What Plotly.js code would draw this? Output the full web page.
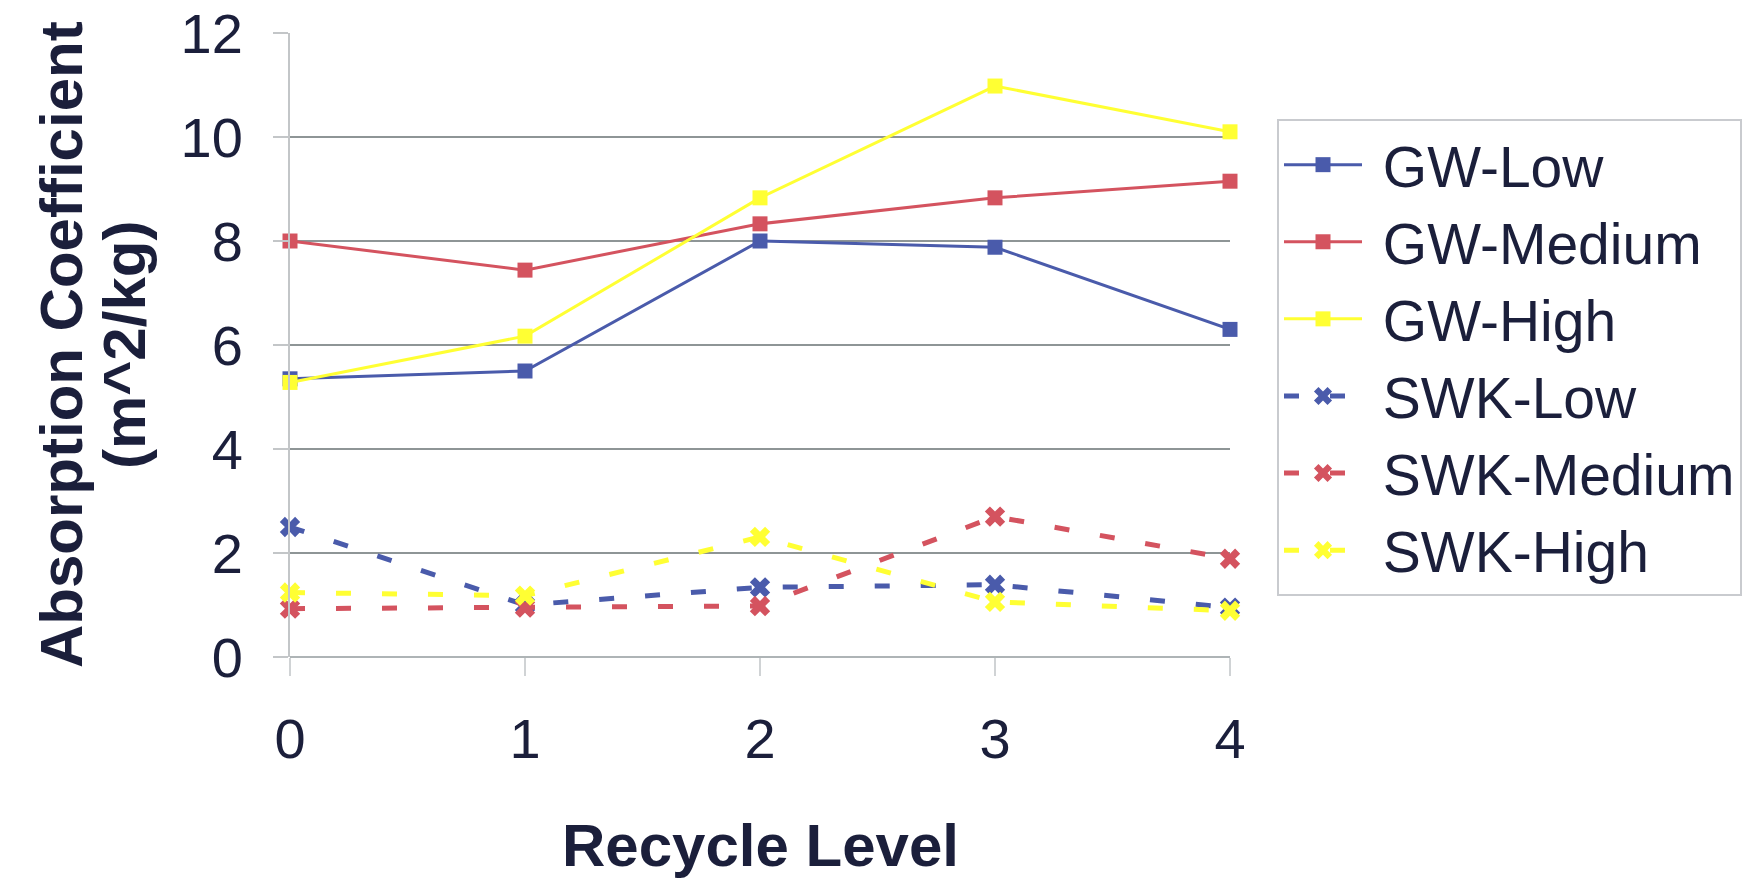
<!DOCTYPE html>
<html>
<head>
<meta charset="utf-8">
<script src="https://cdn.plot.ly/plotly-3.0.1.min.js"></script>
<style>
  html, body { margin: 0; padding: 0; background: #ffffff; }
  #chart { width: 1761px; height: 880px; }
</style>
</head>
<body>
<div id="chart"></div>
<script>
// Recycle levels on the x axis
const recycleLevels = [0, 1, 2, 3, 4];

// Absorption coefficient (m^2/kg) per series
const gwLow      = [5.35, 5.50, 8.00, 7.88, 6.30];
const gwMedium   = [8.00, 7.44, 8.33, 8.83, 9.15];
const gwHigh     = [5.28, 6.17, 8.83, 10.98, 10.10];
const swkLow     = [2.50, 1.00, 1.34, 1.39, 0.95];
const swkMedium  = [0.93, 0.95, 0.98, 2.70, 1.89];
const swkHigh    = [1.24, 1.18, 2.31, 1.06, 0.89];

const seriesNames = ['GW-Low', 'GW-Medium', 'GW-High', 'SWK-Low', 'SWK-Medium', 'SWK-High'];
const yTickValues = [0, 2, 4, 6, 8, 10, 12];
const xTickValues = [0, 1, 2, 3, 4];

const BLUE = '#4a5bab';
const RED = '#d4535f';
const YELLOW = '#ffff33';
const TEXT = '#1b1f3b';
const FONT = '"Liberation Sans", Arial, Helvetica, sans-serif';

// a non-breaking space keeps a gap between the legend symbol and its label
const legendLabel = (name) => '\u00a0' + name;

function solidSeries(name, y, color) {
  return {
    type: 'scatter', mode: 'lines+markers', name: legendLabel(name),
    x: recycleLevels, y: y,
    line: { color: color, width: 3 },
    marker: { symbol: 'square', size: 15, color: color },
    cliponaxis: false
  };
}

function dashedSeries(name, y, color) {
  return {
    type: 'scatter', mode: 'lines+markers', name: legendLabel(name),
    x: recycleLevels, y: y,
    line: { color: color, width: 5, dash: '15px,31px' },
    marker: { symbol: 'x', size: 18, color: color, line: { width: 0 } },
    cliponaxis: false
  };
}

const traces = [
  solidSeries(seriesNames[0], gwLow, BLUE),
  solidSeries(seriesNames[1], gwMedium, RED),
  solidSeries(seriesNames[2], gwHigh, YELLOW),
  dashedSeries(seriesNames[3], swkLow, BLUE),
  dashedSeries(seriesNames[4], swkMedium, RED),
  dashedSeries(seriesNames[5], swkHigh, YELLOW)
];

const layout = {
  width: 1761, height: 880,
  margin: { l: 290, r: 531, t: 33, b: 223 },
  paper_bgcolor: '#ffffff', plot_bgcolor: '#ffffff',
  font: { family: FONT, color: TEXT, size: 55 },
  showlegend: true,
  legend: {
    x: 1.05, y: 0.862, xanchor: 'left', yanchor: 'top',
    bgcolor: '#ffffff', bordercolor: '#c9cbcf', borderwidth: 2,
    font: { family: FONT, size: 57, color: TEXT },
    itemwidth: 78, tracegroupgap: 0
  },
  xaxis: {
    range: [0, 4], tickvals: xTickValues, ticktext: xTickValues.map(String),
    showgrid: false, zeroline: false,
    showline: false,
    ticks: 'outside', ticklen: 18, tickwidth: 2, tickcolor: '#d0d3d5',
    ticklabelstandoff: 15,
    tickfont: { family: FONT, size: 56, color: TEXT }
  },
  yaxis: {
    range: [0, 12], tickvals: yTickValues, ticktext: yTickValues.map(String),
    showgrid: true, gridcolor: '#8e9596', gridwidth: 2,
    zeroline: true, zerolinecolor: '#aeb4b6', zerolinewidth: 2,
    showline: true, linecolor: '#c3c6c8', linewidth: 2,
    ticks: 'outside', ticklen: 15, tickwidth: 2, tickcolor: '#c3c6c8',
    ticklabelstandoff: 19,
    tickfont: { family: FONT, size: 56, color: TEXT }
  },
  annotations: [
    {
      text: 'Absorption Coefficient', textangle: -90,
      xref: 'paper', yref: 'paper', x: 0, y: 0.5, xshift: -229,
      xanchor: 'center', yanchor: 'middle', showarrow: false,
      font: { family: FONT, size: 60, color: TEXT, weight: 'bold' }
    },
    {
      text: '(m^2/kg)', textangle: -90,
      xref: 'paper', yref: 'paper', x: 0, y: 0.5, xshift: -166,
      xanchor: 'center', yanchor: 'middle', showarrow: false,
      font: { family: FONT, size: 60, color: TEXT, weight: 'bold' }
    },
    {
      text: 'Recycle Level',
      xref: 'paper', yref: 'paper', x: 0.5, y: 0, yshift: -188,
      xanchor: 'center', yanchor: 'middle', showarrow: false,
      font: { family: FONT, size: 60, color: TEXT, weight: 'bold' }
    }
  ]
};

Plotly.newPlot('chart', traces, layout, { displayModeBar: false, staticPlot: true });
</script>
</body>
</html>
